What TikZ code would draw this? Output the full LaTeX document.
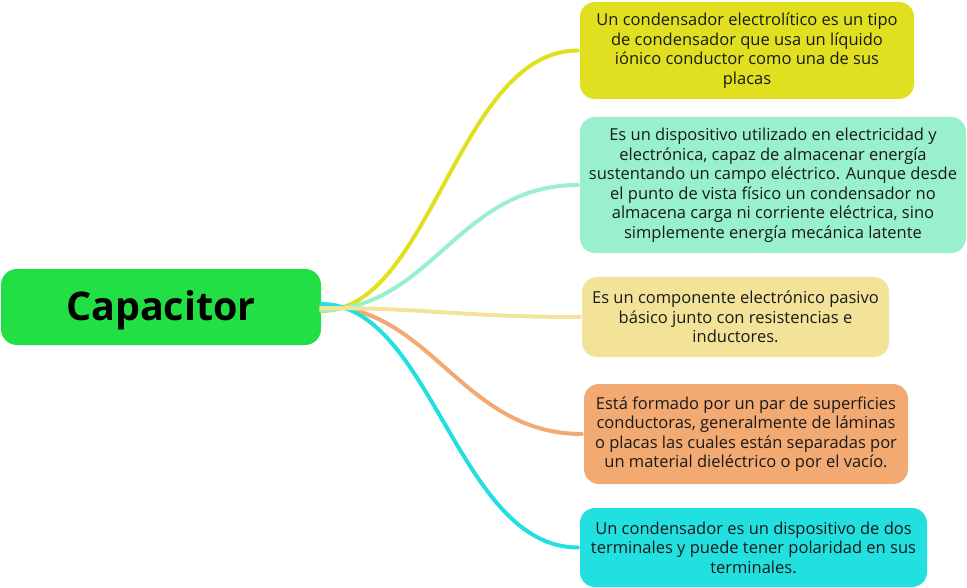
\documentclass[tikz,border=0pt]{standalone}
\usepackage{fontspec}
\setmainfont{Open Sans}
\definecolor{cmain}{HTML}{22E044}
\definecolor{cyel}{HTML}{E0E020}
\definecolor{cmint}{HTML}{98F0CC}
\definecolor{cbeige}{HTML}{F2E398}
\definecolor{corange}{HTML}{F2AA72}
\definecolor{ccyan}{HTML}{22E0E0}
\definecolor{ctext}{HTML}{1A1A1A}
\begin{document}
\begin{tikzpicture}[x=1pt,y=-1pt,
  leaf/.style={rounded corners=15pt, inner sep=0pt, align=center, text=ctext,
    font=\fontsize{16.5}{19.5}\selectfont},
  link/.style={line width=4pt, line cap=round}]
\useasboundingbox (0,0) rectangle (967,588);
\node[fill=cmain, rounded corners=16pt, minimum width=320pt, minimum height=76pt] (c) at (161,307) {};
\node[font=\fontsize{39.5}{48}\selectfont\bfseries, text=black, inner sep=0pt] (ct) at (161,310) {Capacitor};
\node[leaf, fill=cyel, minimum width=334pt, minimum height=97pt] (b1) at (747,50.5)
  {Un condensador electrolítico es un tipo\\de condensador que usa un líquido\\iónico conductor como una de sus\\placas};
\node[leaf, fill=cmint, minimum width=386pt, minimum height=136pt] (b2) at (773,185)
  {Es un dispositivo utilizado en electricidad y\\electrónica, capaz de almacenar energía\\sustentando un campo eléctrico. Aunque desde\\el punto de vista físico un condensador no\\almacena carga ni corriente eléctrica, sino\\simplemente energía mecánica latente};
\node[leaf, fill=cbeige, minimum width=307pt, minimum height=80pt] (b3) at (735.5,317)
  {Es un componente electrónico pasivo\\básico junto con resistencias e\\inductores.};
\node[leaf, fill=corange, minimum width=324pt, minimum height=100pt] (b4) at (746,434)
  {Está formado por un par de superficies\\conductoras, generalmente de láminas\\o placas las cuales están separadas por\\un material dieléctrico o por el vacío.};
\node[leaf, fill=ccyan, minimum width=347pt, minimum height=79pt] (b5) at (753.5,547.5)
  {Un condensador es un dispositivo de dos\\terminales y puede tener polaridad en sus\\terminales.};
\draw[link, cyel] ([yshift=-4pt]c.east) .. controls +(110,0) and +(-120,0) .. ([xshift=-2pt]b1.west);
\draw[link, cmint] ([yshift=-3pt]c.east) .. controls +(110,0) and +(-120,0) .. ([xshift=-2pt]b2.west);
\draw[link, corange] ([yshift=1pt]c.east) .. controls +(110,0) and +(-120,0) .. ([xshift=-2pt]b4.west);
\draw[link, ccyan] ([yshift=3pt]c.east) .. controls +(110,0) and +(-120,0) .. ([xshift=-2pt]b5.west);
\draw[link, cbeige] ([yshift=-1pt]c.east) .. controls +(110,0) and +(-120,0) .. ([xshift=-2pt]b3.west);
\end{tikzpicture}
\end{document}
